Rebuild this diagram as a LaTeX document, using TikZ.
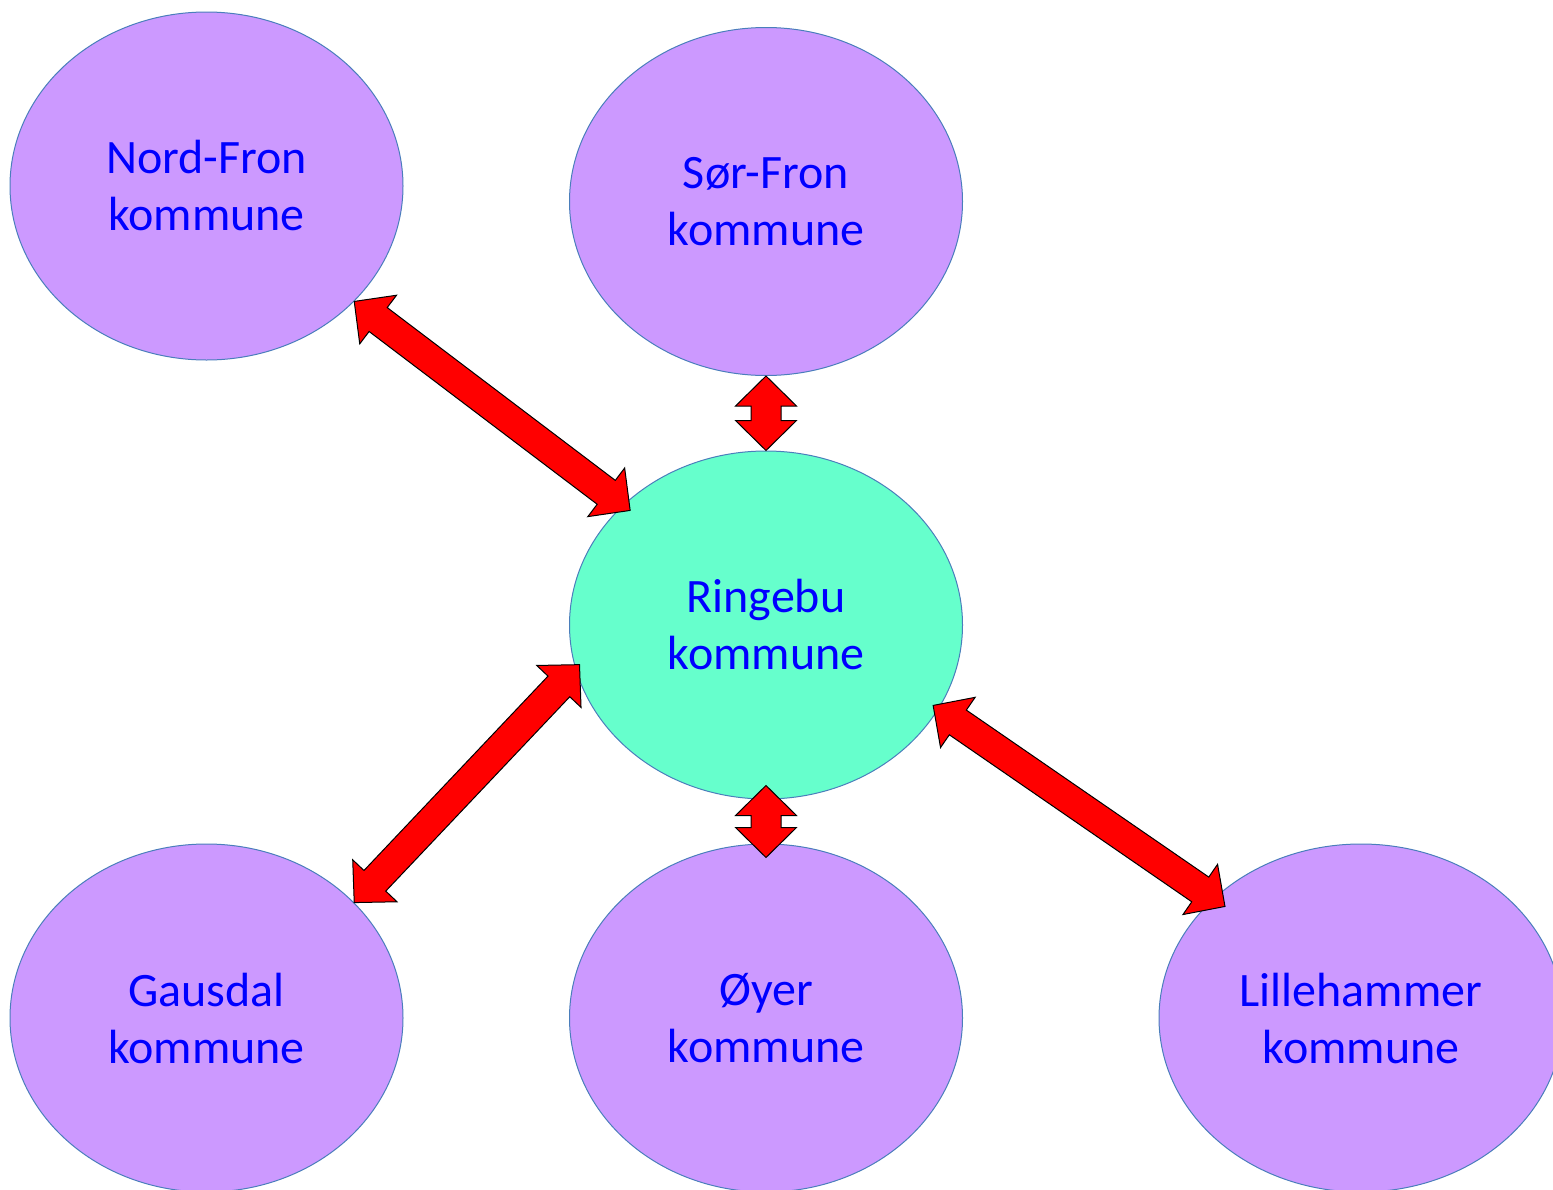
\documentclass[tikz,border=0pt]{standalone}
\usepackage{fontspec}
\setmainfont{Carlito}
\usetikzlibrary{shapes.geometric,calc}

\definecolor{kommunelilla}{RGB}{204,153,255}
\definecolor{ringebugronn}{RGB}{102,255,204}
\definecolor{kantlinje}{RGB}{74,126,187}

\tikzset{
  kommune/.style={ellipse, draw=kantlinje, line width=0.5pt, fill=kommunelilla,
    minimum width=196.5pt, minimum height=174pt, inner sep=0pt,
    align=center, text=blue, font=\fontsize{24}{28.5}\selectfont},
  blokkpil/.style={draw=black, fill=red, line width=0.5pt, line join=miter}
}

% block arrow with two heads: from, to, overlap at from, overlap at to
\newcommand{\kobling}[4]{%
  \draw[blokkpil] let \p1=(#1), \p2=(#2),
      \n1={atan2(\y2-\y1,\x2-\x1)}, \n2={veclen(\x2-\x1,\y2-\y1)+#3+#4} in
    [shift={(\p1)}, rotate=\n1, xshift=-#3]
    (0,0) -- (15pt,15.25pt) -- (15pt,7.5pt) -- (\n2-15pt,7.5pt)
    -- (\n2-15pt,15.25pt) -- (\n2,0) -- (\n2-15pt,-15.25pt)
    -- (\n2-15pt,-7.5pt) -- (15pt,-7.5pt) -- (15pt,-15.25pt) -- cycle;}

\begin{document}
\begin{tikzpicture}[x=0.5pt,y=-0.5pt]

 \useasboundingbox (0,0) rectangle (1553,1189);

 % kommunene
 \node[kommune] (nf) at (206.5,186) {Nord-Fron\\kommune};
 \node[kommune] (sf) at (766,201.5) {Sør-Fron\\kommune};
 \node[kommune, fill=ringebugronn] (rb) at (766,625) {Ringebu\\kommune};
 \node[kommune] (ga) at (206.5,1018) {Gausdal\\kommune};
 \node[kommune] (oy) at (766,1018) {Øyer\\kommune};
 \node[kommune, minimum width=202pt] (li) at (1361,1018) {Lillehammer\\kommune};

 % samarbeid med Ringebu
 \kobling{nf.-38.6}{rb.140.5}{0pt}{4.5pt}
 \kobling{sf.south}{rb.north}{0pt}{0pt}
 \kobling{rb.south}{oy.north}{7pt}{7pt}
 \kobling{ga.38.8}{rb.193.5}{0pt}{3pt}
 \kobling{rb.-26.4}{li.141.5}{3.3pt}{7pt}

\end{tikzpicture}
\end{document}
